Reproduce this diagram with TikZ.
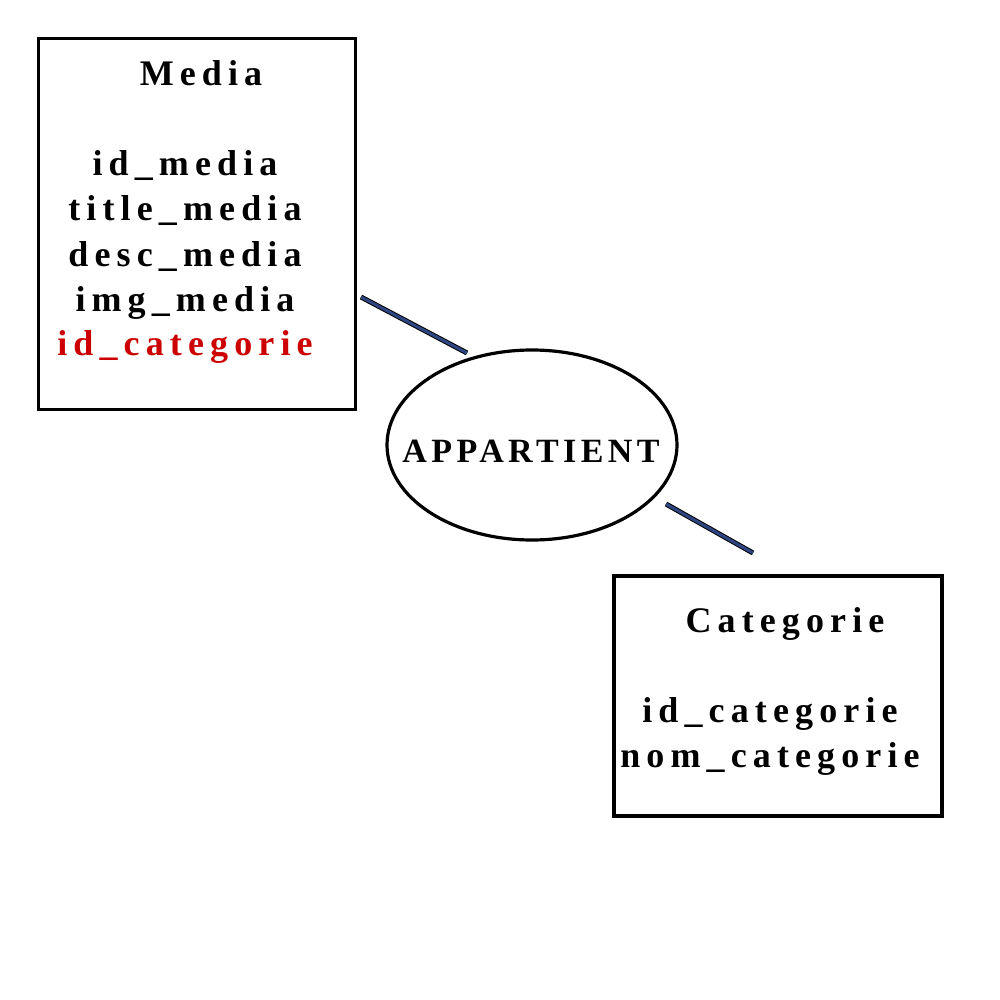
\documentclass[tikz,border=0pt]{standalone}
\usepackage{fontspec}
\setmainfont{Liberation Serif}
\usepackage{tikz}
\usetikzlibrary{shapes.geometric}
\definecolor{linkblue}{RGB}{45,70,130}
\definecolor{keyred}{RGB}{204,0,0}
\newfontfamily\attrfont{Liberation Serif}[LetterSpace=17,BoldFont={Liberation Serif Bold}]
\newfontfamily\relfont{Liberation Serif}[LetterSpace=13,BoldFont={Liberation Serif Bold}]

\begin{document}
\begin{tikzpicture}[x=1pt, y=-1pt,
        every node/.style={inner sep=0pt, outer sep=0pt},
        entity/.style={draw, line width=3.5pt, rectangle},
        attr/.style={anchor=base, font=\fontsize{36}{45}\selectfont\attrfont\bfseries},
        link/.style={line width=1pt, double=linkblue, double distance=3pt}]
    \useasboundingbox (0,0) rectangle (1000,1000);

    % entities
    \node[entity, minimum width=317pt, minimum height=371pt] (media) at (197,224) {};
    \node[entity, minimum width=328pt, minimum height=240pt] (categorie) at (778,696) {};

    % relation
    \node[draw, line width=3.2pt, ellipse, minimum width=290pt, minimum height=190pt] (appartient) at (532,445) {};
    \node[anchor=base, font=\fontsize{34}{40}\selectfont\relfont\bfseries] (appartientlbl) at (531,462) {APPARTIENT};

    % attributes of Media
    \node[attr] (mediatitle) at (201,86) {Media};
    \node[attr] (idmedia) at (185,176) {id\_media};
    \node[attr] (titlemedia) at (185,221) {title\_media};
    \node[attr] (descmedia) at (185,266) {desc\_media};
    \node[attr] (imgmedia) at (185,311) {img\_media};
    \node[attr, keyred] (fkcategorie) at (185,355) {id\_categorie};

    % attributes of Categorie
    \node[attr] (cattitle) at (785,632) {Categorie};
    \node[attr] (idcategorie) at (770,722) {id\_categorie};
    \node[attr] (nomcategorie) at (770,767) {nom\_categorie};

    % connectors
    \coordinate (l1a) at (361,297);
    \coordinate (l1b) at (467,353);
    \coordinate (l2a) at (666,504);
    \coordinate (l2b) at (753,553);
    \draw[link] (l1a) -- (l1b);
    \draw[link] (l2a) -- (l2b);
\end{tikzpicture}
\end{document}
